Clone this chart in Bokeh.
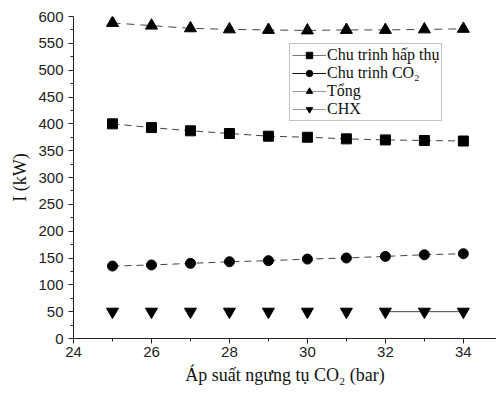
from bokeh.plotting import figure
from bokeh.models import Range1d, Legend, LegendItem, FixedTicker, ColumnDataSource
from bokeh.embed import file_html
from bokeh.resources import INLINE

pressure = [25, 26, 27, 28, 29, 30, 31, 32, 33, 34]
absorption = [400, 393, 387, 382, 377, 375, 372, 370, 369, 368]
co2_cycle = [135, 137, 140, 143, 145, 148, 150, 153, 156, 158]
total = [588, 583, 578, 576, 575, 574, 575, 575, 576, 577]
chx = [50, 50, 50, 50, 50, 50, 50, 50, 50, 50]
x_ticks = [24, 26, 28, 30, 32, 34]
y_ticks = [0, 50, 100, 150, 200, 250, 300, 350, 400, 450, 500, 550, 600]

src = ColumnDataSource(dict(x=pressure, a=absorption, c=co2_cycle, t=total, h=chx))

p = figure(width=496, height=394, output_backend="svg", toolbar_location=None,
           x_range=Range1d(24, 34.85), y_range=Range1d(0, 600),
           min_border_left=73, min_border_right=0, min_border_top=16, min_border_bottom=56)
p.extra_y_ranges = {"legend_only": Range1d(10000, 20000)}
p.outline_line_color = None
p.xgrid.visible = False
p.ygrid.visible = False
p.background_fill_color = "white"
p.border_fill_color = "white"

for ax in (p.xaxis[0], p.yaxis[0]):
    ax.major_label_text_font = "Liberation Sans"
    ax.major_label_text_font_size = "15px"
    ax.major_label_text_color = "#222222"
    ax.axis_line_color = "#222222"
    ax.major_tick_line_color = "#222222"
    ax.minor_tick_line_color = "#222222"
    ax.major_tick_in = 0
    ax.major_tick_out = 5
    ax.minor_tick_in = 0
    ax.minor_tick_out = 3
    ax.axis_label_text_font = "Liberation Serif"
    ax.axis_label_text_font_style = "normal"
    ax.axis_label_text_font_size = "18px"
    ax.axis_label_text_color = "#111111"

p.xaxis.ticker = FixedTicker(ticks=x_ticks, minor_ticks=[25, 27, 29, 31, 33, 35])
p.yaxis.ticker = FixedTicker(ticks=y_ticks, minor_ticks=[v + 25 for v in y_ticks[:-1]])
p.xaxis.axis_label = "Áp suất ngưng tụ CO₂ (bar)"
p.yaxis.axis_label = "I (kW)"
p.xaxis.major_label_standoff = 3
p.xaxis.axis_label_standoff = 5
p.yaxis.axis_label_standoff = 5

lc = "#444444"
p.line("x", "a", source=src, line_color=lc, line_width=1, line_dash="7 5")
s1 = p.scatter("x", "a", source=src, marker="square", size=10, color="black")
p.line("x", "c", source=src, line_color=lc, line_width=1, line_dash="7 5")
s2 = p.scatter("x", "c", source=src, marker="circle", size=10, color="black")
p.line("x", "t", source=src, line_color=lc, line_width=1, line_dash="8 6")
s3 = p.scatter("x", "t", source=src, marker="triangle", size=12, color="black")
p.line(pressure[7:], chx[7:], line_color=lc, line_width=1)
s4 = p.scatter("x", "h", source=src, marker="inverted_triangle", size=12, color="black")

# solid legend samples, placed on a range that keeps them out of the frame
g1 = p.line("x", "a", source=src, y_range_name="legend_only", line_color="#777777", line_width=1)
g2 = p.line("x", "c", source=src, y_range_name="legend_only", line_color="#111111", line_width=1)
g3 = p.line("x", "t", source=src, y_range_name="legend_only", line_color="#999999", line_width=1)
g4 = p.line("x", "h", source=src, y_range_name="legend_only", line_color="#999999", line_width=1)

legend = Legend(items=[
    LegendItem(label="Chu trinh hấp thụ", renderers=[g1, s1]),
    LegendItem(label="Chu trinh CO₂", renderers=[g2, s2]),
    LegendItem(label="Tổng", renderers=[g3, s3]),
    LegendItem(label="CHX", renderers=[g4, s4]),
], location=(216, 217))
legend.label_text_font = "Liberation Serif"
legend.label_text_font_size = "16px"
legend.label_text_color = "#111111"
legend.label_standoff = 1
legend.glyph_width = 34
legend.glyph_height = 16
legend.label_height = 16
legend.spacing = 0
legend.padding = 2
legend.margin = 0
legend.border_line_color = "#888888"
legend.border_line_width = 1
legend.background_fill_alpha = 1
p.add_layout(legend)

open("out.html", "w").write(file_html(p, INLINE))
